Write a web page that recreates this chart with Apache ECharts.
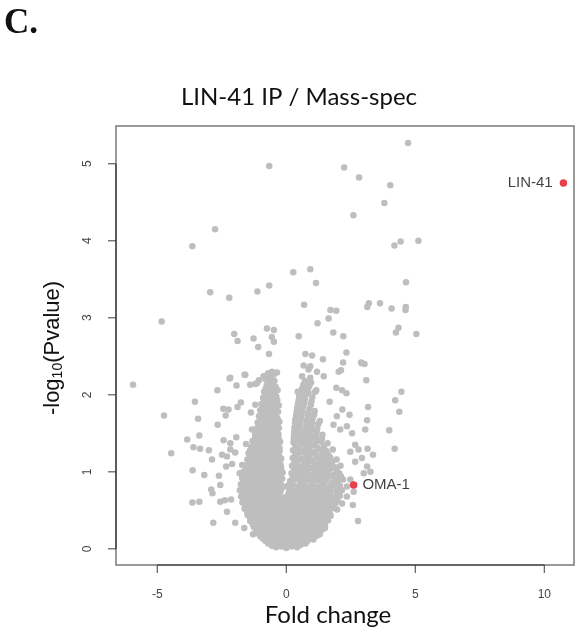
<!DOCTYPE html>
<html>
<head>
<meta charset="utf-8">
<script src="https://cdn.jsdelivr.net/npm/echarts@6/dist/echarts.min.js"></script>
<style>
  body { margin: 0; padding: 0; background: #fff; }
  #chart { width: 579px; height: 634px; }
</style>
</head>
<body>
<div id="chart"></div>
<script>
// [fold change, -log10(p)]

// sparse points far from the volcano centre
const outliers = [
  [4.72,5.27],[-0.66,4.97],[2.24,4.95],[2.82,4.82],[4.03,4.72],[3.80,4.49],[2.60,4.33],[-2.76,4.15],
  [-3.64,3.93],[4.19,3.94],[4.43,3.99],[5.12,4.00],[0.27,3.59],[0.93,3.63],[1.15,3.45],[-0.66,3.42],
  [-1.12,3.34],[-2.95,3.33],[-2.21,3.26],[4.64,3.46],[0.69,3.17],[1.71,3.10],[1.94,3.09],[3.14,3.14],
  [3.20,3.19],[3.63,3.19],[4.08,3.12],[4.62,3.10],[4.63,3.14],[-4.83,2.95],[1.64,2.99],[1.21,2.93],
  [1.82,2.81],[2.21,2.76],[0.48,2.76],[-0.75,2.86],[-0.48,2.84],[-0.56,2.75],[-2.02,2.79],[-1.27,2.73],
  [-1.89,2.70],[4.35,2.87],[4.25,2.81],[5.04,2.79]
];

// scattered points left of the centre
const scatterLeft = [
  [-5.94,2.13],[-4.74,1.73],[-4.46,1.24],[-3.54,1.91],[-3.42,1.69],[-3.84,1.42],[-3.37,1.47],[-3.60,1.32],
  [-3.34,1.30],[-3.63,1.02],[-3.18,0.96],[-3.64,0.60],[-3.37,0.61],[-2.83,0.34],[-2.67,2.06],[-2.66,1.61],
  [-3.00,1.28],[-2.88,1.16],[-2.91,0.77],[-2.86,0.72],[-1.09,2.62],[-0.67,2.53],[-0.48,2.69],[-2.20,2.21],
  [-1.62,2.26],[-1.93,2.12],[-2.44,1.82],[-2.24,1.81],[-1.89,1.84],[-1.76,1.90],[-2.35,1.73],[-1.94,1.45],
  [-2.43,1.41],[-2.17,1.37],[-2.49,1.22],[-2.30,1.20],[-2.17,1.29],[-1.98,1.25],[-2.33,1.07],[-2.10,1.10],
  [-2.56,0.83],[-2.61,0.95],[-2.56,0.61],[-2.38,0.63],[-2.14,0.64],[-2.30,0.48],[-1.98,0.34],[-1.63,0.27],
  [-1.29,0.19],[-1.71,1.09],[-1.50,1.06],[-1.56,1.36],[-1.32,1.33],[-1.81,0.98],[-1.59,0.94],[-1.33,1.55],
  [-1.37,1.77],[-1.20,1.87],[-1.40,2.13],[-1.20,2.14],[-1.06,2.19],[-0.88,2.24],[-0.69,2.28],[-0.49,2.26],
  [-0.36,2.29],[-2.17,2.22],[-1.59,2.26],[-1.14,2.15]
];

// scattered points right of the centre
const scatterRight = [
  [0.74,2.53],[1.00,2.51],[1.42,2.46],[2.33,2.55],[2.90,2.42],[3.03,2.40],[2.20,2.42],[2.12,2.32],
  [2.03,2.30],[0.67,2.38],[0.86,2.33],[0.61,2.24],[0.93,2.22],[1.19,2.30],[1.45,2.24],[3.10,2.19],
  [1.94,2.09],[2.16,2.06],[2.33,2.02],[0.44,2.04],[0.86,2.03],[1.16,2.06],[4.46,2.04],[4.22,1.93],
  [4.38,1.78],[1.68,1.91],[3.17,1.84],[2.17,1.81],[2.45,1.74],[1.96,1.72],[3.13,1.67],[3.06,1.55],
  [3.99,1.54],[2.35,1.59],[2.55,1.50],[2.09,1.55],[1.83,1.61],[3.15,1.30],[3.36,1.22],[2.93,1.18],
  [4.20,1.30],[2.67,1.35],[2.80,1.29],[2.48,1.26],[2.67,1.13],[3.13,1.07],[3.26,1.00],[3.00,0.98],
  [2.61,0.74],[2.58,0.57],[2.78,0.36],[2.35,0.68],[2.16,0.59],[1.97,0.51],[2.35,0.81],[2.48,0.90],
  [0.93,2.37],[0.80,2.09],[1.12,2.04],[2.93,2.41]
];

// dense left arm of the V
const armLeft = [
  [-0.72,2.27],[-0.55,2.30],[-0.80,2.20],[-0.63,2.22],[-0.46,2.18],[-0.76,2.12],[-0.58,2.13],[-0.41,2.10],
  [-0.86,2.04],[-0.67,2.05],[-0.50,2.02],[-0.34,2.06],[-0.90,1.96],[-0.73,1.97],[-0.55,1.95],[-0.39,1.98],
  [-0.96,1.88],[-0.78,1.89],[-0.61,1.87],[-0.44,1.90],[-0.29,1.86],[-1.01,1.80],[-0.83,1.81],[-0.66,1.79],
  [-0.48,1.82],[-0.32,1.78],[-1.06,1.72],[-0.88,1.73],[-0.70,1.71],[-0.52,1.74],[-0.35,1.70],
  [-1.11,1.64],[-0.91,1.65],[-0.74,1.63],[-0.56,1.66],[-0.40,1.62],[-0.27,1.65],
  [-1.16,1.56],[-0.96,1.57],[-0.78,1.55],[-0.60,1.58],[-0.43,1.54],[-0.29,1.57],
  [-1.21,1.48],[-1.01,1.49],[-0.83,1.47],[-0.64,1.50],[-0.46,1.46],[-0.31,1.49],
  [-1.31,1.40],[-1.11,1.41],[-0.91,1.39],[-0.72,1.42],[-0.54,1.38],[-0.37,1.41],[-0.24,1.39],
  [-1.36,1.32],[-1.16,1.33],[-0.96,1.31],[-0.78,1.34],[-0.60,1.30],[-0.42,1.33],[-0.26,1.31],
  [-1.46,1.24],[-1.26,1.25],[-1.06,1.23],[-0.85,1.26],[-0.66,1.22],[-0.48,1.25],[-0.30,1.23],
  [-1.51,1.16],[-1.31,1.17],[-1.10,1.15],[-0.90,1.18],[-0.70,1.14],[-0.52,1.17],[-0.34,1.15],[-0.20,1.17],
  [-1.56,1.08],[-1.36,1.09],[-1.15,1.07],[-0.95,1.10],[-0.75,1.06],[-0.56,1.09],[-0.38,1.07],[-0.22,1.09],
  [-1.66,1.00],[-1.46,1.01],[-1.25,0.99],[-1.05,1.02],[-0.85,0.98],[-0.65,1.01],[-0.46,0.99],[-0.28,1.01],[-0.14,0.99],
  [-1.71,0.92],[-1.51,0.93],[-1.30,0.91],[-1.10,0.94],[-0.90,0.90],[-0.70,0.93],[-0.50,0.91],[-0.32,0.93],[-0.16,0.91],
  [-1.76,0.84],[-1.56,0.85],[-1.35,0.83],[-1.15,0.86],[-0.95,0.82],[-0.75,0.85],[-0.55,0.83],[-0.37,0.85],[-0.20,0.83]
];
const armLeftFill = [
  [-0.64,2.24],[-0.70,2.16],[-0.52,2.15],[-0.80,2.08],[-0.60,2.09],[-0.44,2.07],
  [-0.80,2.00],[-0.62,2.01],[-0.46,1.99],[-0.86,1.92],[-0.68,1.93],[-0.50,1.91],[-0.35,1.93],
  [-0.92,1.84],[-0.74,1.85],[-0.56,1.83],[-0.40,1.85],[-0.97,1.76],[-0.78,1.77],[-0.60,1.75],[-0.43,1.77],
  [-1.00,1.68],[-0.82,1.69],[-0.64,1.67],[-0.47,1.69],[-0.32,1.67],
  [-1.06,1.60],[-0.86,1.61],[-0.68,1.59],[-0.50,1.61],[-0.35,1.59],
  [-1.10,1.52],[-0.92,1.53],[-0.72,1.51],[-0.54,1.53],[-0.38,1.51],
  [-1.20,1.44],[-1.00,1.45],[-0.80,1.43],[-0.62,1.45],[-0.44,1.43],[-0.30,1.45],
  [-1.25,1.36],[-1.05,1.37],[-0.86,1.35],[-0.68,1.37],[-0.50,1.35],[-0.33,1.37],
  [-1.40,1.28],[-1.18,1.29],[-0.98,1.27],[-0.78,1.29],[-0.58,1.27],[-0.40,1.29],[-0.26,1.27],
  [-1.40,1.20],[-1.20,1.21],[-1.00,1.19],[-0.80,1.21],[-0.60,1.19],[-0.43,1.21],[-0.26,1.19],
  [-1.45,1.12],[-1.25,1.13],[-1.05,1.11],[-0.85,1.13],[-0.65,1.11],[-0.46,1.13],[-0.28,1.11],
  [-1.55,1.04],[-1.35,1.05],[-1.15,1.03],[-0.95,1.05],[-0.75,1.03],[-0.55,1.05],[-0.37,1.03],[-0.20,1.05],
  [-1.60,0.96],[-1.40,0.97],[-1.20,0.95],[-1.00,0.97],[-0.80,0.95],[-0.60,0.97],[-0.40,0.95],[-0.23,0.97],
  [-1.65,0.88],[-1.45,0.89],[-1.25,0.87],[-1.05,0.89],[-0.85,0.87],[-0.65,0.89],[-0.45,0.87],[-0.27,0.89],
  [-1.70,0.80],[-1.50,0.81],[-1.30,0.79],[-1.10,0.81],[-0.90,0.79],[-0.70,0.81],[-0.50,0.79],[-0.30,0.81],[-0.14,0.80]
];

// dense right arm of the V
const armRight = [
  [0.72,2.18],[0.96,2.16],[0.61,2.08],[0.86,2.10],[0.50,1.98],[0.76,2.00],[1.01,1.97],
  [0.45,1.88],[0.70,1.90],[0.95,1.87],[0.40,1.78],[0.62,1.80],[0.85,1.77],[1.10,1.79],
  [0.35,1.68],[0.58,1.70],[0.80,1.67],[1.02,1.69],[1.30,1.66],
  [0.32,1.58],[0.52,1.60],[0.75,1.57],[0.98,1.59],[1.20,1.56],
  [0.30,1.48],[0.50,1.50],[0.72,1.47],[0.94,1.49],[1.15,1.46],[1.40,1.48],
  [0.28,1.38],[0.48,1.40],[0.70,1.37],[0.90,1.39],[1.12,1.36],[1.35,1.39],[1.60,1.37],
  [0.26,1.28],[0.46,1.30],[0.66,1.27],[0.88,1.29],[1.10,1.26],[1.30,1.29],[1.55,1.27],[1.80,1.29],
  [0.25,1.18],[0.44,1.20],[0.64,1.17],[0.85,1.19],[1.05,1.16],[1.25,1.19],[1.48,1.17],[1.70,1.19],[1.95,1.16],
  [0.22,1.08],[0.42,1.10],[0.62,1.07],[0.82,1.09],[1.02,1.06],[1.22,1.09],[1.42,1.07],[1.65,1.09],[1.88,1.06],[2.10,1.08],
  [0.20,0.98],[0.40,1.00],[0.60,0.97],[0.80,0.99],[1.00,0.96],[1.20,0.99],[1.40,0.97],[1.60,0.99],[1.82,0.96],[2.05,0.98],
  [0.15,0.88],[0.35,0.90],[0.55,0.87],[0.75,0.89],[0.95,0.86],[1.15,0.89],[1.35,0.87],[1.55,0.89],[1.78,0.86],[2.00,0.88],[2.20,0.90]
];
const armRightFill = [
  [0.66,2.13],[0.90,2.12],[0.56,2.03],[0.80,2.05],[0.48,1.93],[0.72,1.95],[0.98,1.92],
  [0.42,1.83],[0.66,1.85],[0.90,1.82],[0.38,1.73],[0.60,1.75],[0.84,1.72],[1.08,1.74],
  [0.34,1.63],[0.55,1.65],[0.78,1.62],[1.00,1.64],[1.24,1.62],
  [0.31,1.53],[0.50,1.55],[0.73,1.52],[0.96,1.54],[1.18,1.52],
  [0.29,1.43],[0.48,1.45],[0.70,1.42],[0.92,1.44],[1.14,1.41],[1.38,1.43],
  [0.36,1.33],[0.57,1.35],[0.78,1.32],[1.00,1.34],[1.22,1.31],[1.46,1.33],
  [0.35,1.23],[0.55,1.25],[0.76,1.22],[0.96,1.24],[1.18,1.21],[1.40,1.23],[1.62,1.22],
  [0.32,1.13],[0.52,1.15],[0.72,1.12],[0.92,1.14],[1.12,1.11],[1.32,1.14],[1.55,1.12],[1.78,1.13],
  [0.30,1.03],[0.50,1.05],[0.70,1.02],[0.90,1.04],[1.10,1.01],[1.30,1.04],[1.52,1.02],[1.72,1.04],[1.95,1.02],
  [0.25,0.93],[0.45,0.95],[0.65,0.92],[0.85,0.94],[1.05,0.91],[1.25,0.94],[1.45,0.92],[1.68,0.94],[1.90,0.92],[2.12,0.94],
  [0.05,0.82],[0.25,0.83],[0.45,0.81],[0.65,0.83],[0.85,0.81],[1.05,0.83],[1.25,0.81],[1.45,0.83],[1.65,0.81],[1.88,0.83],[2.08,0.82]
];

// dense base of the V
const base = [
  [-1.80,0.76],[-1.60,0.77],[-1.40,0.75],[-1.20,0.77],[-1.00,0.75],[-0.80,0.77],[-0.60,0.75],[-0.40,0.77],[-0.22,0.75],
  [0.12,0.77],[0.32,0.75],[0.52,0.77],[0.72,0.75],[0.92,0.77],[1.12,0.75],[1.32,0.77],[1.52,0.75],[1.72,0.77],[1.95,0.75],[2.15,0.76],
  [-1.75,0.68],[-1.55,0.69],[-1.35,0.67],[-1.15,0.69],[-0.95,0.67],[-0.75,0.69],[-0.55,0.67],[-0.35,0.69],[-0.15,0.67],
  [0.05,0.69],[0.25,0.67],[0.45,0.69],[0.65,0.67],[0.85,0.69],[1.05,0.67],[1.25,0.69],[1.45,0.67],[1.65,0.69],[1.85,0.67],[2.08,0.69],
  [-1.70,0.60],[-1.50,0.61],[-1.30,0.59],[-1.10,0.61],[-0.90,0.59],[-0.70,0.61],[-0.50,0.59],[-0.30,0.61],[-0.10,0.59],
  [0.10,0.61],[0.30,0.59],[0.50,0.61],[0.70,0.59],[0.90,0.61],[1.10,0.59],[1.30,0.61],[1.50,0.59],[1.70,0.61],[1.90,0.59],
  [-1.62,0.52],[-1.42,0.53],[-1.22,0.51],[-1.02,0.53],[-0.82,0.51],[-0.62,0.53],[-0.42,0.51],[-0.22,0.53],[-0.02,0.51],
  [0.18,0.53],[0.38,0.51],[0.58,0.53],[0.78,0.51],[0.98,0.53],[1.18,0.51],[1.38,0.53],[1.58,0.51],[1.80,0.53],
  [-1.50,0.44],[-1.30,0.45],[-1.10,0.43],[-0.90,0.45],[-0.70,0.43],[-0.50,0.45],[-0.30,0.43],[-0.10,0.45],
  [0.10,0.43],[0.30,0.45],[0.50,0.43],[0.70,0.45],[0.90,0.43],[1.10,0.45],[1.30,0.43],[1.50,0.45],[1.72,0.43],
  [-1.40,0.36],[-1.20,0.37],[-1.00,0.35],[-0.80,0.37],[-0.60,0.35],[-0.40,0.37],[-0.20,0.35],[0.00,0.37],
  [0.20,0.35],[0.40,0.37],[0.60,0.35],[0.80,0.37],[1.00,0.35],[1.20,0.37],[1.40,0.35],[1.62,0.37],
  [-1.25,0.28],[-1.05,0.29],[-0.85,0.27],[-0.65,0.29],[-0.45,0.27],[-0.25,0.29],[-0.05,0.27],[0.15,0.29],
  [0.35,0.27],[0.55,0.29],[0.75,0.27],[0.95,0.29],[1.15,0.27],[1.35,0.29],[1.50,0.27],
  [-1.10,0.20],[-0.90,0.21],[-0.70,0.19],[-0.50,0.21],[-0.30,0.19],[-0.10,0.21],[0.10,0.19],[0.30,0.21],
  [0.50,0.19],[0.70,0.21],[0.90,0.19],[1.10,0.21],[1.30,0.19],
  [-0.90,0.13],[-0.70,0.14],[-0.50,0.12],[-0.30,0.14],[-0.10,0.12],[0.10,0.14],[0.30,0.12],[0.50,0.14],[0.70,0.12],[0.90,0.14],[1.05,0.12],
  [-0.70,0.07],[-0.50,0.08],[-0.30,0.06],[-0.10,0.08],[0.10,0.06],[0.30,0.08],[0.50,0.06],[0.75,0.07],
  [-0.40,0.02],[-0.20,0.03],[0.00,0.01],[0.20,0.03],[0.42,0.02]
];
const baseFill = [
  [-1.70,0.72],[-1.50,0.73],[-1.30,0.71],[-1.10,0.73],[-0.90,0.71],[-0.70,0.73],[-0.50,0.71],[-0.30,0.73],
  [0.10,0.73],[0.30,0.71],[0.50,0.73],[0.70,0.71],[0.90,0.73],[1.10,0.71],[1.30,0.73],[1.50,0.71],[1.70,0.73],[1.95,0.71],
  [-1.65,0.64],[-1.45,0.65],[-1.25,0.63],[-1.05,0.65],[-0.85,0.63],[-0.65,0.65],[-0.45,0.63],[-0.25,0.65],[-0.05,0.63],
  [0.15,0.65],[0.35,0.63],[0.55,0.65],[0.75,0.63],[0.95,0.65],[1.15,0.63],[1.35,0.65],[1.55,0.63],[1.75,0.65],[1.98,0.63],
  [-1.60,0.56],[-1.40,0.57],[-1.20,0.55],[-1.00,0.57],[-0.80,0.55],[-0.60,0.57],[-0.40,0.55],[-0.20,0.57],[0.00,0.55],
  [0.20,0.57],[0.40,0.55],[0.60,0.57],[0.80,0.55],[1.00,0.57],[1.20,0.55],[1.40,0.57],[1.60,0.55],[1.82,0.57],
  [-1.52,0.48],[-1.32,0.49],[-1.12,0.47],[-0.92,0.49],[-0.72,0.47],[-0.52,0.49],[-0.32,0.47],[-0.12,0.49],
  [0.08,0.47],[0.28,0.49],[0.48,0.47],[0.68,0.49],[0.88,0.47],[1.08,0.49],[1.28,0.47],[1.48,0.49],[1.68,0.47],
  [-1.40,0.40],[-1.20,0.41],[-1.00,0.39],[-0.80,0.41],[-0.60,0.39],[-0.40,0.41],[-0.20,0.39],[0.00,0.41],
  [0.20,0.39],[0.40,0.41],[0.60,0.39],[0.80,0.41],[1.00,0.39],[1.20,0.41],[1.40,0.39],[1.60,0.41],
  [-1.30,0.32],[-1.10,0.33],[-0.90,0.31],[-0.70,0.33],[-0.50,0.31],[-0.30,0.33],[-0.10,0.31],[0.10,0.33],
  [0.30,0.31],[0.50,0.33],[0.70,0.31],[0.90,0.33],[1.10,0.31],[1.30,0.33],[1.50,0.31],
  [-1.15,0.24],[-0.95,0.25],[-0.75,0.23],[-0.55,0.25],[-0.35,0.23],[-0.15,0.25],[0.05,0.23],[0.25,0.25],
  [0.45,0.23],[0.65,0.25],[0.85,0.23],[1.05,0.25],[1.25,0.23],[1.40,0.25],
  [-1.00,0.16],[-0.80,0.17],[-0.60,0.15],[-0.40,0.17],[-0.20,0.15],[0.00,0.17],[0.20,0.15],[0.40,0.17],
  [0.60,0.15],[0.80,0.17],[1.00,0.15],[1.18,0.17],
  [-0.80,0.10],[-0.60,0.11],[-0.40,0.09],[-0.20,0.11],[0.00,0.09],[0.20,0.11],[0.40,0.09],[0.60,0.11],[0.82,0.10],
  [-0.55,0.04],[-0.30,0.05],[-0.10,0.04],[0.10,0.05],[0.32,0.04],[0.55,0.05]
];

// labelled proteins
const hitNames = ['LIN-41', 'OMA-1'];
const hitFold = [10.74, 2.61];
const hitLogP = [4.75, 0.83];
const hitLabelSide = ['left', 'right'];

const xTicks = [-5, 0, 5, 10];
const yTicks = [0, 1, 2, 3, 4, 5];
const xRange = [-6.6, 11.15];
const yRange = [-0.21, 5.49];

const chart = echarts.init(document.getElementById('chart'));

const others = [].concat(base, baseFill, armLeft, armLeftFill, armRight, armRightFill,
  scatterLeft, scatterRight, outliers);

const textGraphics = [
  {
    type: 'text', left: 4, top: 6,
    style: { text: 'C.', font: 'bold 35px "Liberation Serif"', fill: '#111' }
  },
  {
    type: 'text', x: 299, y: 97,
    style: {
      text: 'LIN-41 IP / Mass-spec', font: '24px Lato', fill: '#111',
      textAlign: 'center', textVerticalAlign: 'middle'
    }
  },
  {
    type: 'text', x: 328, y: 615,
    style: {
      text: 'Fold change', font: '24px Lato', fill: '#111',
      textAlign: 'center', textVerticalAlign: 'middle'
    }
  },
  {
    type: 'text', x: 53, y: 348, rotation: Math.PI / 2,
    style: {
      text: '-log{sub|10}(Pvalue)', font: '22px "Liberation Sans"', fill: '#111',
      textAlign: 'center', textVerticalAlign: 'middle',
      rich: { sub: { font: '14px "Liberation Sans"', fill: '#111', padding: [10, 0, 0, 0] } }
    }
  }
];

// R-style ticks drawn as small bar markers sitting on the box edges
const tickStyle = { color: '#333' };
const tickSeries = [
  {
    type: 'scatter', silent: true, clip: false, z: 6,
    symbol: 'rect', symbolSize: [1.2, 8], symbolOffset: [0, 4],
    itemStyle: tickStyle,
    data: xTicks.map(v => [v, yRange[0]])
  },
  {
    type: 'scatter', silent: true, clip: false, z: 6,
    symbol: 'rect', symbolSize: [8, 1.2], symbolOffset: [-4, 0],
    itemStyle: tickStyle,
    data: yTicks.map(v => [xRange[0], v])
  },
  {
    type: 'line', silent: true, clip: false, z: 6, symbol: 'none',
    lineStyle: { color: '#333', width: 1.2 },
    data: [[xTicks[0], yRange[0]], [xTicks[xTicks.length - 1], yRange[0]]]
  },
  {
    type: 'line', silent: true, clip: false, z: 6, symbol: 'none',
    lineStyle: { color: '#333', width: 1.2 },
    data: [[xRange[0], yTicks[0]], [xRange[0], yTicks[yTicks.length - 1]]]
  }
];

chart.setOption({
  backgroundColor: '#fff',
  animation: false,
  graphic: textGraphics,
  grid: {
    left: 116, top: 126, right: 5, bottom: 69,
    show: true, borderColor: '#7a7a7a', borderWidth: 1.5
  },
  xAxis: {
    type: 'value', min: xRange[0], max: xRange[1],
    splitLine: { show: false },
    axisLine: { show: false, onZero: false },
    axisTick: { show: false },
    axisLabel: { customValues: xTicks, margin: 24, fontSize: 12, color: '#444', fontFamily: 'Liberation Sans' }
  },
  yAxis: {
    type: 'value', min: yRange[0], max: yRange[1],
    splitLine: { show: false },
    axisLine: { show: false, onZero: false },
    axisTick: { show: false },
    axisLabel: { customValues: yTicks, rotate: 90, margin: 22, fontSize: 12, color: '#444', fontFamily: 'Liberation Sans' }
  },
  series: [
    {
      type: 'scatter',
      data: others,
      symbolSize: 6.5,
      itemStyle: { color: '#bebebe', opacity: 1 },
      silent: true
    },
    {
      type: 'scatter',
      z: 5,
      symbolSize: 7.5,
      itemStyle: { color: '#e3121b' },
      data: hitNames.map((n, i) => ({
        name: n,
        value: [hitFold[i], hitLogP[i]],
        label: { position: hitLabelSide[i], distance: i === 0 ? 7 : 5 }
      })),
      label: {
        show: true,
        formatter: p => p.name,
        fontSize: 15, fontFamily: 'Liberation Sans', color: '#111'
      }
    }
  ].concat(tickSeries)
});
</script>
</body>
</html>
